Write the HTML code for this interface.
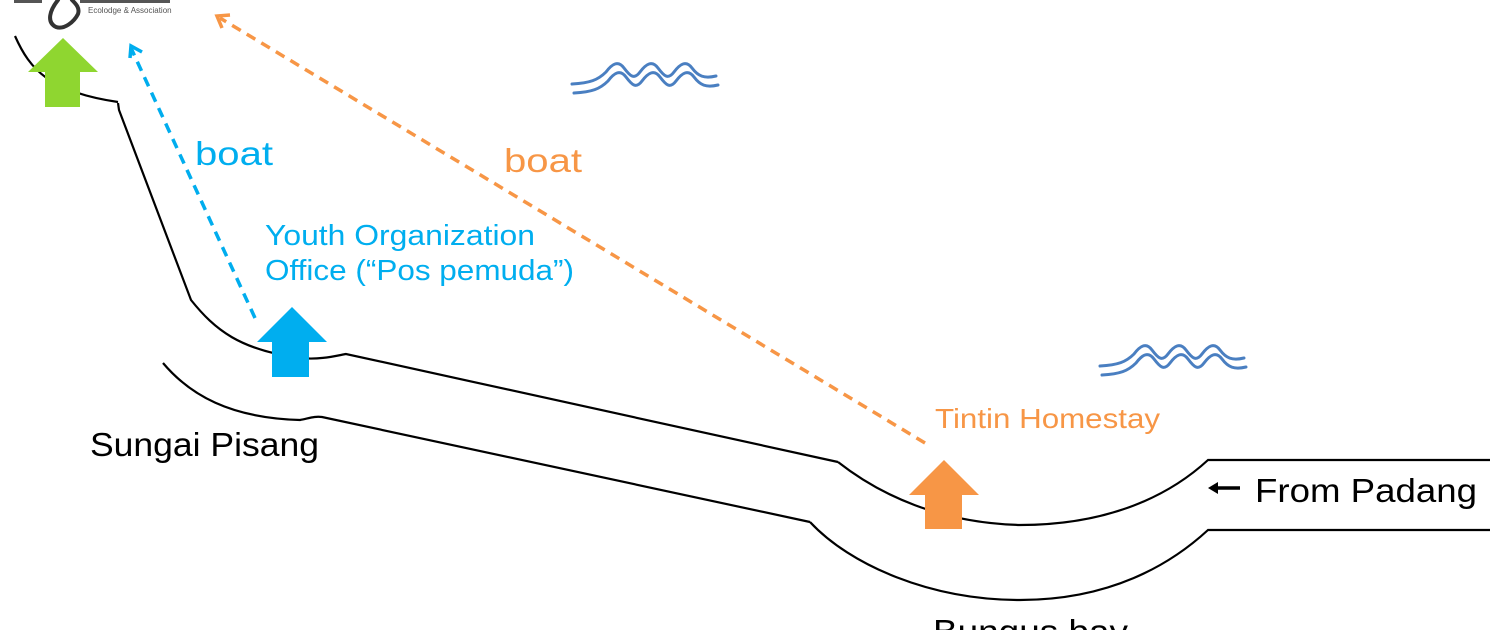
<!DOCTYPE html>
<html><head><meta charset="utf-8"><style>
html,body{margin:0;padding:0;background:#fff;}
svg{display:block;}
text{font-family:"Liberation Sans",sans-serif;}
</style></head><body>
<svg width="1500" height="630" viewBox="0 0 1500 630" xmlns="http://www.w3.org/2000/svg">
<defs>
<g id="wave" fill="none" stroke="#4a7fc1" stroke-width="3" stroke-linecap="round">
<path d="M572,84 C590,83 598,80 606,72 C612,64 618,60 624,68 C630,76 634,80 640,72 C646,64 652,60 658,68 C664,76 668,80 674,72 C680,64 686,60 692,68 C698,76 704,79 716,76"/>
<path d="M574,93 C592,92 600,89 608,81 C614,73 620,69 626,77 C632,85 636,89 642,81 C648,73 654,69 660,77 C666,85 670,89 676,81 C682,73 688,69 694,77 C700,85 706,88 718,85"/>
</g>
</defs>
<!-- logo fragment -->
<path d="M58,0 C50,10 46,22 56,27 C64,30 74,22 78,14 C80,8 76,4 72,0" fill="none" stroke="#333" stroke-width="4" stroke-linecap="round"/>
<rect x="14" y="0" width="28" height="3" fill="#555"/>
<rect x="80" y="0" width="90" height="3" fill="#555"/>
<text x="88" y="13" font-size="8" fill="#555">Ecolodge &amp; Association</text>

<g fill="none" stroke="#000" stroke-width="2.2">
<path d="M15,36 C30,70 50,92 118,102"/>
<path d="M118,103 L119,110 L191,300 C215,330 240,350 300,358 C320,360 335,356 346,354 L838,462"/>
<path d="M163,363 C190,395 230,418 300,420 C310,418 315,416 322,417 L810,522"/>
<path d="M838,462 C880,495 940,523 1020,525 C1110,525 1170,495 1208,460 L1490,460"/>
<path d="M810,522 C850,565 930,600 1020,600 C1110,600 1170,565 1208,530 L1490,530"/>
</g>

<use href="#wave"/>
<use href="#wave" transform="translate(528,282)"/>

<g fill="none" stroke-width="3.5" stroke-dasharray="10,7">
<path d="M255,318 L131,48" stroke="#00adee"/>
<path d="M925,443 L220,18" stroke="#f79646"/>
</g>
<g fill="none" stroke-width="3.5">
<path d="M130,58 L131,46 L142,52" stroke="#00adee"/>
<path d="M222,28 L217,16 L230,15" stroke="#f79646"/>
</g>

<polygon points="63,38 98,72 80,72 80,107 45,107 45,72 28,72" fill="#8fd630"/>
<polygon points="292,307 327,342 309,342 309,377 272,377 272,342 257,342" fill="#00aeef"/>
<polygon points="944,460 979,495 962,495 962,529 925,529 925,495 909,495" fill="#f79646"/>

<text x="195" y="165" font-size="33" fill="#00aeef" textLength="78" lengthAdjust="spacingAndGlyphs">boat</text>
<text x="504" y="172" font-size="33" fill="#f79646" textLength="78" lengthAdjust="spacingAndGlyphs">boat</text>
<text x="265" y="245" font-size="29" fill="#00aeef" textLength="270" lengthAdjust="spacingAndGlyphs">Youth Organization</text>
<text x="265" y="280" font-size="29" fill="#00aeef" textLength="309" lengthAdjust="spacingAndGlyphs">Office (“Pos pemuda”)</text>
<text x="935" y="428" font-size="28" fill="#f79646" textLength="225" lengthAdjust="spacingAndGlyphs">Tintin Homestay</text>
<text x="90" y="456" font-size="33" fill="#000" textLength="229" lengthAdjust="spacingAndGlyphs">Sungai Pisang</text>
<text x="1255" y="502" font-size="33" fill="#000" textLength="222" lengthAdjust="spacingAndGlyphs">From Padang</text>
<text x="933" y="643" font-size="33" fill="#000" textLength="195" lengthAdjust="spacingAndGlyphs">Bungus bay</text>
<g stroke="#000" stroke-width="3.5" fill="#000">
<line x1="1215" y1="488" x2="1240" y2="488"/>
<polygon points="1208,488 1218,482 1218,494" stroke="none"/>
</g>
</svg>
</body></html>
